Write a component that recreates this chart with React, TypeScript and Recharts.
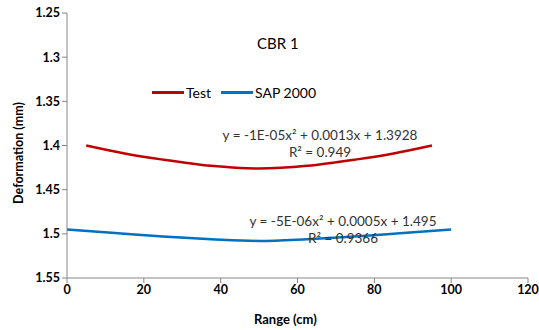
import React from "react";
import { LineChart, Line, XAxis, YAxis } from "recharts";

const testRange = [5, 15, 25, 37.5, 50, 62.5, 75, 85, 95];
const testValues = [1.4, 1.409, 1.416, 1.423, 1.426, 1.423, 1.416, 1.409, 1.4];
const sapRange = [0, 12.5, 25, 37.5, 50, 62.5, 75, 87.5, 100];
const sapValues = [1.495, 1.499, 1.503, 1.506, 1.508, 1.506, 1.503, 1.499, 1.495];
const xTicks = [0, 20, 40, 60, 80, 100, 120];
const yTicks = [1.25, 1.3, 1.35, 1.4, 1.45, 1.5, 1.55];

const testData = testRange.map((x, i) => ({ x, y: testValues[i] }));
const sapData = sapRange.map((x, i) => ({ x, y: sapValues[i] }));

const font = "Lato, 'Open Sans', sans-serif";
const RED = "#C00000";
const BLUE = "#0070C0";

const tickStyle = { fontSize: 12.5, fill: "#000", fontWeight: 700, fontFamily: font };

export default function App() {
    return (
        <div style={{ position: "absolute", left: 0, top: 0, width: 539, height: 330, background: "#fff", fontFamily: font }}>
            <LineChart
                width={539}
                height={330}
                margin={{ top: 13, right: 11, bottom: 22, left: 27 }}
            >
                <XAxis
                    type="number"
                    dataKey="x"
                    domain={[0, 120]}
                    ticks={xTicks}
                    height={30}
                    stroke="#868686"
                    tickLine={{ stroke: "#868686" }}
                    tickSize={5}
                    tick={tickStyle}
                    allowDataOverflow
                />
                <YAxis
                    type="number"
                    dataKey="y"
                    reversed
                    domain={[1.25, 1.55]}
                    ticks={yTicks}
                    width={40}
                    stroke="#868686"
                    tickSize={5}
                    tick={tickStyle}
                    tickFormatter={(v: number) => String(v)}
                    allowDataOverflow
                />
                <Line
                    data={testData}
                    dataKey="y"
                    type="monotone"
                    stroke={RED}
                    strokeWidth={2.5}
                    dot={false}
                    isAnimationActive={false}
                />
                <Line
                    data={sapData}
                    dataKey="y"
                    type="monotone"
                    stroke={BLUE}
                    strokeWidth={2.5}
                    dot={false}
                    isAnimationActive={false}
                />
            </LineChart>

            <div style={{ position: "absolute", left: 257, top: 34, fontSize: 15 }}>CBR 1</div>

            <div style={{ position: "absolute", left: 152, top: 84, fontSize: 14, display: "flex", alignItems: "center" }}>
                <span style={{ display: "inline-block", width: 32, height: 2.5, background: RED }} />
                <span style={{ marginLeft: 2 }}>Test</span>
                <span style={{ display: "inline-block", width: 32, height: 2.5, background: BLUE, marginLeft: 10 }} />
                <span style={{ marginLeft: 2 }}>SAP 2000</span>
            </div>

            <div style={{ position: "absolute", left: 200, width: 240, top: 127, textAlign: "center", fontSize: 13.5, color: "#333", lineHeight: "17px" }}>
                <div>y = -1E-05x² + 0.0013x + 1.3928</div>
                <div>R² = 0.949</div>
            </div>

            <div style={{ position: "absolute", left: 223, width: 240, top: 213, textAlign: "center", fontSize: 13.5, color: "#333", lineHeight: "17px" }}>
                <div>y = -5E-06x² + 0.0005x + 1.495</div>
                <div>R² = 0.9366</div>
            </div>

            <div style={{ position: "absolute", left: 254, top: 311, fontSize: 13, fontWeight: 700 }}>Range (cm)</div>

            <div
                style={{
                    position: "absolute",
                    left: 18,
                    top: 153,
                    fontSize: 12.5,
                    fontWeight: 700,
                    whiteSpace: "nowrap",
                    transform: "translate(-50%, -50%) rotate(-90deg)",
                }}
            >
                Deformation (mm)
            </div>
        </div>
    );
}
